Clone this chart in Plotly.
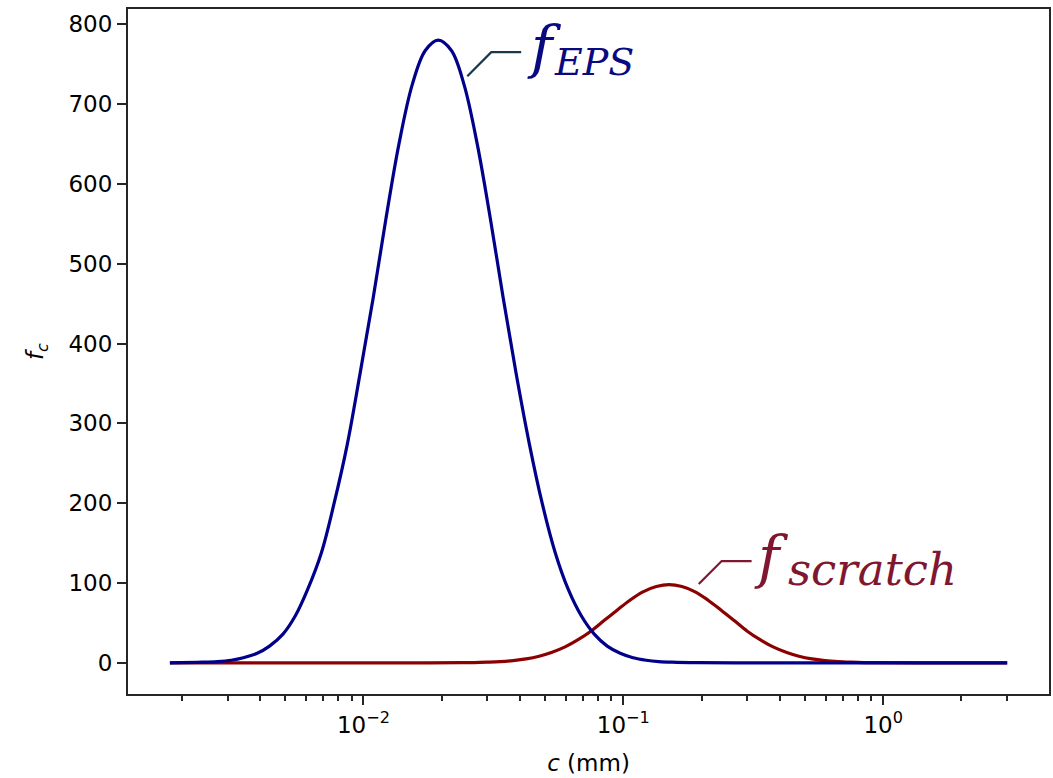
import plotly.graph_objects as go

# ---- data ----
eps_c = [0.0018, 0.0024, 0.00274, 0.0031, 0.00345, 0.0039, 0.00435, 0.0049, 0.00547,
         0.0061, 0.00689, 0.0077, 0.00867, 0.0097, 0.0109, 0.0122, 0.0137, 0.0154,
         0.0173, 0.0194, 0.0218, 0.0244, 0.0274, 0.0308, 0.0345, 0.0387, 0.0435,
         0.0488, 0.0547, 0.0614, 0.0689, 0.0773, 0.0867, 0.0973, 0.109, 0.1225,
         0.137, 0.154, 0.194, 0.3, 0.5, 1.0, 2.0, 3.0]
eps_f = [0.1, 0.8, 1.6, 3.3, 6.4, 12, 21, 36, 59,
         92, 138, 199, 274, 362, 457, 556, 650, 724,
         767, 780, 767, 724, 650, 556, 457, 362, 274,
         199, 138, 92, 59, 36, 21, 12, 6.4, 3.3,
         1.6, 0.8, 0.2, 0, 0, 0, 0, 0]

scr_c = [0.0018, 0.005, 0.01, 0.015, 0.0238, 0.0267, 0.0299, 0.0336, 0.0377, 0.0423,
         0.0474, 0.0532, 0.0597, 0.067, 0.0752, 0.0843, 0.0946, 0.106, 0.119, 0.134,
         0.15, 0.168, 0.189, 0.212, 0.238, 0.267, 0.299, 0.336, 0.377, 0.423,
         0.474, 0.532, 0.597, 0.67, 0.752, 0.843, 0.946, 1.5, 3.0]
scr_f = [0, 0, 0, 0, 0.2, 0.4, 0.8, 1.5, 2.8, 4.9,
         8.3, 13.3, 20, 29, 40, 53, 66, 78.5, 89, 95.6,
         98, 95.6, 89, 78.5, 66, 53, 40, 29, 20, 13.3,
         8.3, 4.9, 2.8, 1.5, 0.8, 0.4, 0.2, 0, 0]

x_major = [0.01, 0.1, 1]
x_major_text = ["10<sup>−2</sup>", "10<sup>−1</sup>", "10<sup>0</sup>"]
x_minor = [0.002, 0.003, 0.004, 0.005, 0.006, 0.007, 0.008, 0.009,
           0.02, 0.03, 0.04, 0.05, 0.06, 0.07, 0.08, 0.09,
           0.2, 0.3, 0.4, 0.5, 0.6, 0.7, 0.8, 0.9, 2, 3]
y_ticks = [0, 100, 200, 300, 400, 500, 600, 700, 800]

BLUE = "#00008B"
RED = "#8B0000"
FONT = "DejaVu Sans"

fig = go.Figure()
fig.add_trace(go.Scatter(x=scr_c, y=scr_f, mode="lines",
                         line=dict(color=RED, width=3.2, shape="spline", smoothing=1.0),
                         hoverinfo="skip"))
fig.add_trace(go.Scatter(x=eps_c, y=eps_f, mode="lines",
                         line=dict(color=BLUE, width=3.2, shape="spline", smoothing=1.0),
                         hoverinfo="skip"))

axis_common = dict(showline=True, mirror=True, linecolor="#262626", linewidth=2,
                   ticks="outside", ticklen=9, tickwidth=2, tickcolor="#262626",
                   showgrid=False, zeroline=False,
                   tickfont=dict(family=FONT, size=23, color="black"))

fig.update_xaxes(type="log", range=[-2.906, 0.638], tickmode="array", tickvals=x_major,
                 ticktext=x_major_text,
                 minor=dict(tickmode="array", tickvals=x_minor, ticks="outside", ticklen=5,
                            tickwidth=1.6, tickcolor="#262626", showgrid=False),
                 title=dict(text="<i>c</i> (mm)", font=dict(family=FONT, size=23, color="black"), standoff=18),
                 **axis_common)
fig.update_yaxes(range=[-39, 819], tickmode="array", tickvals=y_ticks,
                 title=dict(text="<i>f</i><sub><i>c</i></sub>", font=dict(family=FONT, size=23, color="black"),
                            standoff=18),
                 **axis_common)

# leader lines (paper coordinates)
fig.add_shape(type="path", xref="paper", yref="paper",
              path="M 0.3684 0.9019 L 0.3944 0.9370 L 0.4269 0.9370",
              line=dict(color="#17394a", width=2.2))
fig.add_shape(type="path", xref="paper", yref="paper",
              path="M 0.6197 0.1605 L 0.6446 0.1941 L 0.6771 0.1941",
              line=dict(color="#7f1730", width=2.2))

SERIF = "DejaVu Serif"
fig.add_annotation(xref="paper", yref="paper", x=0.4518, y=0.9447, xanchor="center", yanchor="middle",
                   text="<i>f</i>", showarrow=False, font=dict(family=SERIF, size=58, color="#0a0a80"))
fig.add_annotation(xref="paper", yref="paper", x=0.4605, y=0.9224, xanchor="left", yanchor="middle",
                   text="<i>EPS</i>", showarrow=False, font=dict(family=SERIF, size=38, color="#0a0a80"))
fig.add_annotation(xref="paper", yref="paper", x=0.6988, y=0.2004, xanchor="center", yanchor="middle",
                   text="<i>f</i>", showarrow=False, font=dict(family=SERIF, size=58, color="#7f1730"))
fig.add_annotation(xref="paper", yref="paper", x=0.7140, y=0.1824, xanchor="left", yanchor="middle",
                   text="<i>scratch</i>", showarrow=False, font=dict(family=SERIF, size=45, color="#7f1730"))

fig.update_layout(width=1053, height=778, margin=dict(l=128, r=2, t=9, b=84),
                  plot_bgcolor="white", paper_bgcolor="white", showlegend=False)

fig.write_html("out.html")
